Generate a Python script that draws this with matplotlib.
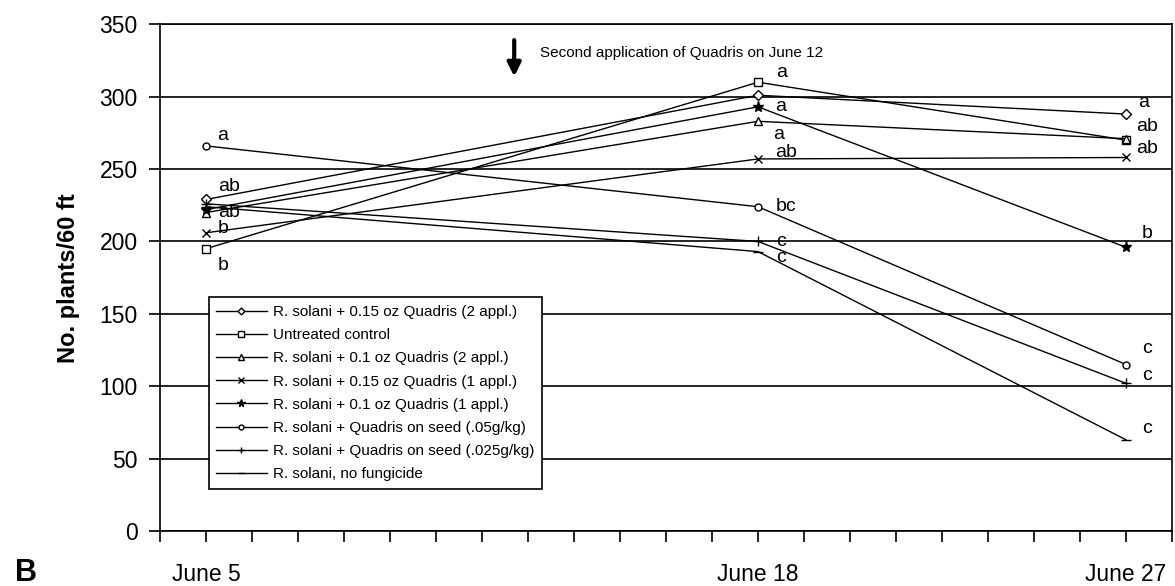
import matplotlib
matplotlib.use("Agg")
import matplotlib.pyplot as plt
from matplotlib.ticker import FixedLocator, MultipleLocator

plt.rcParams['font.family'] = ['Liberation Sans', 'DejaVu Sans']

# 日期及其在刻度轴上的位置
dates = ['June 5', 'June 18', 'June 27']
x_pos = [1, 13, 21]

names = [
    'R. solani + 0.15 oz Quadris (2 appl.)',
    'Untreated control',
    'R. solani + 0.1 oz Quadris (2 appl.)',
    'R. solani + 0.15 oz Quadris (1 appl.)',
    'R. solani + 0.1 oz Quadris (1 appl.)',
    'R. solani + Quadris on seed (.05g/kg)',
    'R. solani + Quadris on seed (.025g/kg)',
    'R. solani, no fungicide',
]

# 各处理的植株数
q15_two = [229, 301, 288]
control = [195, 310, 270]
q10_two = [220, 283, 271]
q15_one = [206, 257, 258]
q10_one = [222, 293, 196]
seed_05 = [266, 224, 115]
seed_025 = [226, 200, 102]
no_fung = [224, 193, 63]
values = [q15_two, control, q10_two, q15_one, q10_one, seed_05, seed_025, no_fung]

# 显著性字母
letters = [
    ['ab', '', 'a'],
    ['b', 'a', 'ab'],
    ['ab', 'a', ''],
    ['b', 'ab', 'ab'],
    ['', 'a', 'b'],
    ['a', 'bc', 'c'],
    ['', 'c', 'c'],
    ['', 'c', 'c'],
]

# 字母的偏移 (像素)
offsets = [
    [(23, 13), None, (18, 12)],
    [(17, -17), (24, 10), (21, 14)],
    [(23, 0), (21, -13), None],
    [(17, 4), (28, 6), (21, 9)],
    [None, (23, 0), (21, 14)],
    [(17, 10), (28, 0), (21, 16)],
    [None, (23, 0), (21, 8)],
    [None, (23, -6), (21, 11)],
]

markers = ['D', 's', '^', 'x', '*', 'o', '+', '_']
msizes = [5, 6, 6, 6, 8, 5, 7, 7]
filled = [False, False, False, True, True, False, True, True]

fig = plt.figure(figsize=(11.75, 5.86), dpi=100)
ax = fig.add_axes([0.1362, 0.0939, 0.9974 - 0.1362, 0.9585 - 0.0939])

for i in range(len(values)):
    ax.plot(x_pos, values[i], color='black', lw=1.0, marker=markers[i],
            markersize=msizes[i], markerfacecolor='black' if filled[i] else 'white',
            markeredgecolor='black', markeredgewidth=1.0, label=names[i])
    for j in range(len(dates)):
        if letters[i][j]:
            dx, dy = offsets[i][j]
            ax.annotate(letters[i][j], (x_pos[j], values[i][j]), xytext=(dx, dy),
                        textcoords='offset pixels', ha='center', va='center', fontsize=14)

ax.set_xlim(0, 22)
ax.set_ylim(0, 350)
ax.yaxis.set_major_locator(MultipleLocator(50))
ax.xaxis.set_major_locator(FixedLocator(x_pos))
ax.xaxis.set_minor_locator(MultipleLocator(1))
ax.set_xticklabels(dates)
ax.tick_params(axis='x', which='both', direction='out', length=8, width=1.2,
               labelsize=16.5, pad=15)
ax.tick_params(axis='y', direction='out', length=8, width=1.2, labelsize=16.5, pad=8)
ax.grid(axis='y', color='black', lw=1.2)
for sp in ax.spines.values():
    sp.set_linewidth(1.2)

ax.set_ylabel('No. plants/60 ft', fontsize=17, fontweight='bold', labelpad=14)

# 第二次施药注释
ax.annotate('', xy=(7.7, 312), xytext=(7.7, 341),
            arrowprops=dict(arrowstyle='-|>,head_width=0.4,head_length=0.8',
                            color='black', lw=3))
ax.text(8.25, 330, 'Second application of Quadris on June 12', fontsize=11, va='center')

leg = ax.legend(loc='lower left', bbox_to_anchor=(0.048, 0.083), fontsize=11,
                frameon=True, fancybox=False, edgecolor='black', framealpha=1,
                handlelength=3.3, labelspacing=0.6, markerscale=0.7,
                borderpad=0.5, handletextpad=0.4, borderaxespad=0)
leg.get_frame().set_linewidth(1.2)

fig.text(0.013, 0.008, 'B', fontsize=22, fontweight='bold')

fig.savefig('out.png', dpi=100)
